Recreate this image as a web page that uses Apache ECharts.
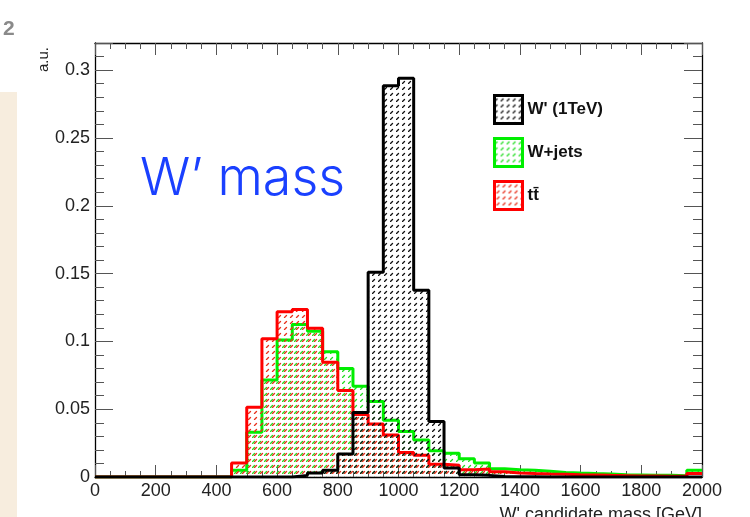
<!DOCTYPE html>
<html>
<head>
<meta charset="utf-8">
<title>W' mass</title>
<script src="https://cdn.jsdelivr.net/npm/echarts@6/dist/echarts.min.js"></script>
<style>
  html, body { margin: 0; padding: 0; background: #fff; }
  #chart { width: 750px; height: 517px; }
</style>
</head>
<body>
<div id="chart"></div>
<script>
// lower edges of the 50 GeV bins
var binEdges = [0, 50, 100, 150, 200, 250, 300, 350, 400, 450,
  500, 550, 600, 650, 700, 750, 800, 850, 900, 950,
  1000, 1050, 1100, 1150, 1200, 1250, 1300, 1350, 1400, 1450,
  1500, 1550, 1600, 1650, 1700, 1750, 1800, 1850, 1900, 1950]
var lastEdge = 2000

var wprime = [0, 0, 0, 0, 0, 0, 0, 0, 0, 0,
  0, 0, 0, 0.0012, 0.003, 0.005, 0.017, 0.0475, 0.151, 0.2885,
  0.294, 0.1377, 0.041, 0.0066, 0.0017, 0.0012, 0.0004, 0.0002, 0.0002, 0,
  0, 0, 0, 0, 0, 0, 0, 0, 0, 0]
var wjets = [0, 0, 0, 0, 0, 0, 0, 0, 0, 0.005,
  0.033, 0.0715, 0.101, 0.1125, 0.1075, 0.0924, 0.080, 0.067, 0.0556, 0.0418,
  0.0336, 0.0273, 0.0194, 0.0176, 0.0135, 0.0103, 0.0061, 0.0054, 0.0049, 0.0042,
  0.0034, 0.0029, 0.0025, 0.0022, 0.0017, 0.0015, 0.0012, 0.0012, 0.001, 0.0049]
var ttbar = [0, 0, 0, 0, 0, 0, 0, 0, 0, 0.0103,
  0.0515, 0.102, 0.1218, 0.1235, 0.1096, 0.0846, 0.0637, 0.046, 0.039, 0.031,
  0.018, 0.016, 0.0094, 0.0086, 0.0054, 0.0059, 0.0039, 0.003, 0.0025, 0.0022,
  0.002, 0.0017, 0.0015, 0.0012, 0.001, 0.0008, 0.0008, 0.0006, 0.0006, 0.0025]

var names = ["W' (1TeV)", 'W+jets', 'tt\u0304']
var xTicks = { min: 0, max: 2000, interval: 200 }
var yTicks = { min: 0, max: 0.32, interval: 0.05 }

// ROOT-like dashed diagonal hatch
function hatch (color, shift) {
  var c = document.createElement('canvas')
  c.width = 6
  c.height = 6
  var ctx = c.getContext('2d')
  ctx.strokeStyle = color
  ctx.lineWidth = 1.3
  ctx.lineCap = 'round'
  ctx.beginPath()
  ctx.moveTo(0.5 + shift, 5.5)
  ctx.lineTo(2.5 + shift, 3.5)
  ctx.stroke()
  return { image: c, repeat: 'repeat' }
}

function steps (vals) {
  var pts = binEdges.map(function (e, i) { return [e, vals[i]] })
  pts.push([lastEdge, vals[vals.length - 1]])
  return pts
}

var font = 'Liberation Sans'
var hBlack = hatch('#111', 0)
var hGreen = hatch('#22dd22', 0)
var hRed = hatch('#e8301c', 2)

function xAxis (pos, labels) {
  return {
    type: 'value', position: pos, min: xTicks.min, max: xTicks.max, interval: xTicks.interval,
    axisLine: { show: true, onZero: false, lineStyle: { color: '#000', width: 1.3 } },
    axisTick: { show: true, inside: true, length: 12, lineStyle: { color: '#555', width: 1 } },
    minorTick: { show: true, splitNumber: 4, length: 6, lineStyle: { color: '#555', width: 1 } },
    splitLine: { show: false },
    axisLabel: {
      show: labels, fontFamily: font, fontSize: 18, color: '#222', margin: 5,
      formatter: function (v) { return String(v) }
    }
  }
}

function yAxis (pos, minor, labels) {
  return {
    type: 'value', position: pos, min: yTicks.min, max: yTicks.max,
    interval: minor ? 0.01 : yTicks.interval,
    axisLine: { show: !minor, onZero: false, lineStyle: { color: '#000', width: 1.3 } },
    axisTick: { show: true, inside: true, length: minor ? 9 : 18, lineStyle: { color: '#555', width: 1 } },
    splitLine: { show: false },
    axisLabel: {
      show: labels, fontFamily: font, fontSize: 18, color: '#222', margin: 5,
      formatter: function (v) {
        return v > 0.301 ? '' : String(Math.round(v * 100) / 100)
      }
    }
  }
}

var chart = echarts.init(document.getElementById('chart'), null, { renderer: 'canvas' })

var xb = xAxis('bottom', true)
xb.name = "W' candidate mass [GeV]"
xb.nameLocation = 'end'
xb.nameGap = 0
xb.nameTextStyle = { fontFamily: font, fontSize: 18, color: '#222', align: 'right', verticalAlign: 'top', padding: [29, 0, 0, 0] }

chart.setOption({
  backgroundColor: '#fff',
  animation: false,
  grid: { left: 95, right: 48, top: 43, bottom: 40, containLabel: false, outerBoundsMode: 'none' },
  xAxis: [xb, xAxis('top', false)],
  yAxis: [
    yAxis('left', false, true),
    yAxis('left', true, false),
    yAxis('right', false, false),
    yAxis('right', true, false)
  ],
  legend: {
    orient: 'vertical', left: 493, top: 94, padding: 0,
    itemWidth: 28, itemHeight: 28, itemGap: 12,
    icon: 'rect',
    textStyle: { fontFamily: font, fontWeight: 'bold', fontSize: 17, color: '#111' },
    data: [
      { name: names[0], itemStyle: { color: hBlack, borderColor: '#000', borderWidth: 3 } },
      { name: names[1], itemStyle: { color: hGreen, borderColor: '#00ee00', borderWidth: 3 } },
      { name: names[2], itemStyle: { color: hRed, borderColor: '#ff0000', borderWidth: 3 } }
    ]
  },
  graphic: [
    { type: 'rect', left: 0, top: 92, shape: { width: 17, height: 425 }, style: { fill: '#f5e8d6', opacity: 0.8 }, z: -1 },
    { type: 'text', left: 3, top: 19, style: { text: '2', fontFamily: font, fontWeight: 'bold', fontSize: 21, fill: '#8a8a8a' } },
    { type: 'text', x: 44, y: 72, rotation: Math.PI / 2, style: { text: 'a.u.', fontFamily: font, fontSize: 15, fill: '#222', align: 'left', verticalAlign: 'middle' } },
    { type: 'text', left: 140, top: 153, style: { text: 'W\u2019 mass', fontFamily: 'Inter', fontWeight: 300, fontSize: 52, fill: '#1a40ff' } }
  ],
  series: [
    {
      name: names[1], type: 'line', step: 'end', symbol: 'none', data: steps(wjets),
      lineStyle: { color: '#00ee00', width: 3 }, itemStyle: { color: '#00ee00' },
      areaStyle: { color: hGreen, opacity: 1 }, z: 2
    },
    {
      name: names[2], type: 'line', step: 'end', symbol: 'none', data: steps(ttbar),
      lineStyle: { color: '#ff0000', width: 3 }, itemStyle: { color: '#ff0000' },
      areaStyle: { color: hRed, opacity: 1 }, z: 3
    },
    {
      name: names[0], type: 'line', step: 'end', symbol: 'none', data: steps(wprime),
      lineStyle: { color: '#000', width: 3 }, itemStyle: { color: '#000' },
      areaStyle: { color: hBlack, opacity: 1 }, z: 4
    }
  ]
})
</script>
</body>
</html>
